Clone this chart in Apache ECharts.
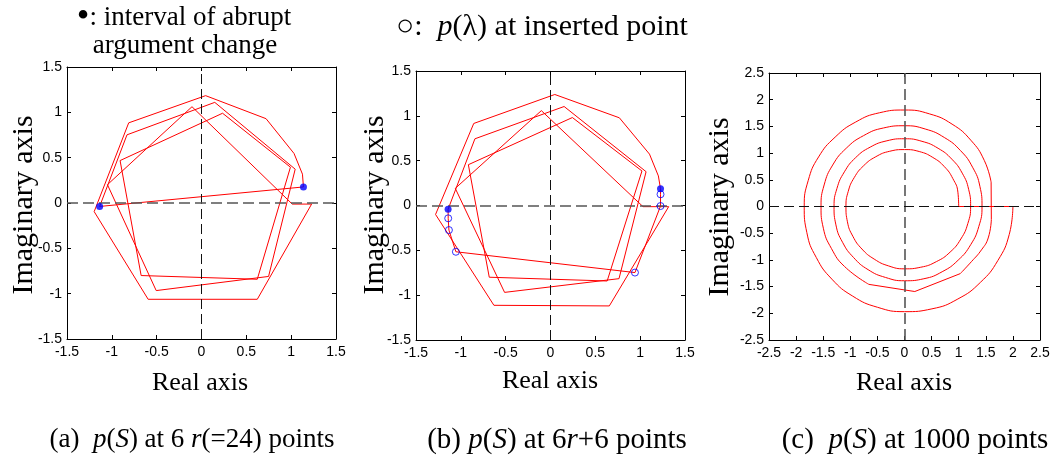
<!DOCTYPE html>
<html><head><meta charset="utf-8">
<script src="https://cdn.jsdelivr.net/npm/echarts@6/dist/echarts.min.js"></script>
<style>html,body{margin:0;padding:0;background:#fff}#c{width:1053px;height:457px}</style>
</head><body><div id="c"></div>
<script>
// ---------- data ----------
const ticksAB = [-1.5, -1, -0.5, 0, 0.5, 1, 1.5];
const ticksC = [-2.5, -2, -1.5, -1, -0.5, 0, 0.5, 1, 1.5, 2, 2.5];

// (a) p(S) at 24 points: main closed polygon and inner pentagon
const aMainPath = [
  [-1.136, -0.038], [1.137, 0.177], [1.126, 0.318], [1.032, 0.546], [0.72, 0.93],
  [0.046, 1.184], [-0.812, 0.884], [-1.197, -0.095], [-0.595, -1.062], [0.622, -1.062],
  [1.228, -0.012], [1.012, -0.012], [-0.106, 1.062], [-1.049, 0.202], [-0.505, -0.966],
  [0.748, -0.81], [1.045, 0.373], [0.148, 1.11], [-0.831, 0.752], [-1.136, -0.038]
];
const aInnerPath = [
  [0.992, 0.395], [0.235, 0.99], [-0.908, 0.468], [-0.673, -0.8], [0.622, -0.841], [0.992, 0.395]
];
const aAbruptPts = [[-1.136, -0.038], [1.137, 0.177]];

// (b) p(S) at 6r+6 points
const bMainPath = [
  [-1.142, -0.042], [-1.141, -0.143], [-1.133, -0.274], [-1.055, -0.516], [0.942, -0.748],
  [1.227, -0.006], [1.227, 0.125], [1.227, 0.186], [1.203, 0.33], [1.104, 0.573],
  [0.768, 0.978], [0.048, 1.238], [-0.856, 0.915], [-1.282, -0.1], [-0.631, -1.113],
  [0.656, -1.12], [1.318, -0.013], [1.032, -0.013], [-0.102, 1.058], [-1.062, 0.191],
  [-0.512, -0.969], [0.764, -0.816], [1.066, 0.377], [0.152, 1.104], [-0.843, 0.744],
  [-1.142, -0.042]
];
const bInnerPath = [
  [1.02, 0.385], [0.244, 0.981], [-0.916, 0.455], [-0.683, -0.8], [0.632, -0.842], [1.02, 0.385]
];
const bAbruptPts = [[-1.142, -0.042], [1.227, 0.186]];
const bInsertedPts = [[-1.141, -0.143], [-1.133, -0.274], [-1.055, -0.516], [0.942, -0.748], [1.227, -0.006], [1.227, 0.125]];

// (c) p(S) at 1000 points: spiral read as radius / angle (degrees) pairs
const cRadius = [
  1.00, 1.02, 1.03, 1.04, 1.045, 1.05, 1.05, 1.055, 1.06, 1.065, 1.07, 1.075,
  1.08, 1.09, 1.10, 1.11, 1.12, 1.135, 1.15, 1.16, 1.175, 1.19, 1.20, 1.21,
  1.22, 1.225, 1.23, 1.235, 1.24, 1.245, 1.25, 1.255, 1.265, 1.275, 1.28, 1.29,
  1.30, 1.31, 1.32, 1.33, 1.345, 1.355, 1.37, 1.38, 1.39, 1.40, 1.41, 1.42,
  1.43, 1.44, 1.45, 1.46, 1.47, 1.48, 1.49, 1.50, 1.51, 1.52, 1.53, 1.535,
  1.54, 1.55, 1.555, 1.565, 1.58, 1.58, 1.61, 1.60, 1.63, 1.65, 1.62, 1.66,
  1.70, 1.73, 1.755, 1.77, 1.78, 1.79, 1.80, 1.81, 1.83, 1.84, 1.85, 1.865,
  1.88, 1.895, 1.91, 1.925, 1.94, 1.955, 1.97, 1.98, 1.99, 2.0, 2.0, 1.0
];
const cAngle = [
  0, 15, 30, 45, 60, 75, 90, 105, 120, 135, 150, 165,
  180, 195, 210, 225, 240, 255, 270, 285, 300, 315, 330, 345,
  0, 15, 30, 45, 60, 75, 90, 105, 120, 135, 150, 165,
  180, 195, 210, 225, 240, 255, 270, 285, 300, 315, 330, 345,
  0, 15, 30, 45, 60, 75, 90, 105, 120, 135, 150, 165,
  180, 195, 210, 225, 245.4, 276.9, 309.7, 320.5, 330.6, 339.4, 351.5, 15.7,
  30, 45, 60, 75, 90, 105, 120, 135, 150, 165, 180, 195,
  210, 225, 240, 255, 270, 285, 300, 315, 330, 345, 0, 0
];
// pieces of the spiral: [first index, last index, smooth?]
const cPieces = [[0, 64, true], [64, 66, false], [66, 70, true], [70, 71, false], [71, 94, true], [94, 95, false]];

// ---------- chart ----------
const RED = '#ff0000', BLUE = '#0000ff';
const SERIF = '"Liberation Serif", "Times New Roman", serif';
const SANS = '"Liberation Sans", Arial, sans-serif';

const grids = [
  { left: 67, top: 67, width: 269, height: 272 },
  { left: 416, top: 71, width: 269, height: 269 },
  { left: 769, top: 73, width: 271, height: 267 }
];
const gridTicks = [ticksAB, ticksAB, ticksC];

const xAxes = [], yAxes = [];
gridTicks.forEach((t, i) => {
  const common = {
    type: 'value', gridIndex: i, min: t[0], max: t[t.length - 1], interval: t[1] - t[0],
    axisLine: { show: true, onZero: false, lineStyle: { color: '#000', width: 1 } },
    axisTick: { show: true, inside: true, length: 4, lineStyle: { color: '#000' } },
    splitLine: { show: false }
  };
  xAxes.push(Object.assign({}, common, { position: 'bottom',
    axisLabel: { show: true, color: '#000', fontFamily: SANS, fontSize: 14, margin: 6 } }));
  xAxes.push(Object.assign({}, common, { position: 'top', axisLabel: { show: false } }));
  yAxes.push(Object.assign({}, common, { position: 'left',
    axisLabel: { show: true, color: '#000', fontFamily: SANS, fontSize: 14, margin: 5 } }));
  yAxes.push(Object.assign({}, common, { position: 'right', axisLabel: { show: false } }));
});

const DARK = { color: '#111', type: [10, 5], width: 1 };
const GREY = { color: '#555', type: [11, 5], width: 1.6 };
function dashedAxes(vStyle, hStyle) {
  return {
    silent: true, symbol: ['none', 'none'], label: { show: false },
    emphasis: { disabled: true },
    data: [{ xAxis: 0, lineStyle: vStyle }, { yAxis: 0, lineStyle: hStyle }]
  };
}

function redLine(gi, data, mark) {
  const s = {
    type: 'line', xAxisIndex: 2 * gi, yAxisIndex: 2 * gi, data: data,
    showSymbol: false, symbol: 'none', z: 3,
    lineStyle: { color: RED, width: 1 }
  };
  if (mark) s.markLine = mark;
  return s;
}
function dots(gi, data, hollow) {
  return {
    type: 'scatter', xAxisIndex: 2 * gi, yAxisIndex: 2 * gi, data: data, z: 5,
    symbol: 'circle', symbolSize: 7,
    itemStyle: hollow ? { color: 'rgba(0,0,0,0)', borderColor: BLUE, borderWidth: 1 } : { color: BLUE }
  };
}

const spiral = cRadius.map((r, k) => [r, cAngle[k]]);

const series = [
  redLine(0, aMainPath, dashedAxes(DARK, GREY)), redLine(0, aInnerPath, null), dots(0, aAbruptPts, false),
  redLine(1, bMainPath, dashedAxes(DARK, GREY)), redLine(1, bInnerPath, null), dots(1, bInsertedPts, true), dots(1, bAbruptPts, false),
  { type: 'line', xAxisIndex: 4, yAxisIndex: 4, data: [], markLine: dashedAxes(GREY, DARK) }
];
cPieces.forEach(p => {
  series.push({
    type: 'line', coordinateSystem: 'polar', polarIndex: 0, data: spiral.slice(p[0], p[1] + 1),
    showSymbol: false, symbol: 'none', z: 3, smooth: p[2] ? 0.5 : false,
    lineStyle: { color: RED, width: 1 }
  });
});

function txt(x, y, text, size, opts) {
  opts = opts || {};
  return {
    type: 'text', x: x, y: y, rotation: opts.rot || 0, silent: true,
    style: {
      text: text, font: size + 'px ' + SERIF, fill: '#000',
      align: 'center', verticalAlign: 'middle', textAlign: 'center', textVerticalAlign: 'middle'
    }
  };
}
function rich(x, y, text, size) {
  return {
    type: 'text', x: x, y: y, silent: true,
    style: {
      text: text, fill: '#000', align: 'center', verticalAlign: 'middle', textAlign: 'center', textVerticalAlign: 'middle',
      font: size + 'px ' + SERIF,
      rich: {
        n: { fontFamily: SERIF, fontSize: size, fill: '#000' },
        i: { fontFamily: SERIF, fontSize: size, fontStyle: 'italic', fill: '#000' },
        b: { fontFamily: SERIF, fontSize: Math.round(size * 1.35), fill: '#000' }
      }
    }
  };
}

const graphics = [
  rich(184, 18, '{b|\u2022}{n|: interval of abrupt}', 27),
  txt(185, 46, 'argument change', 27),
  rich(542, 27, '{n|\u25CB:  }{i|p}{n|(\u03BB) at inserted point}', 30),
  txt(200, 383, 'Real axis', 26),
  txt(550, 381, 'Real axis', 26),
  txt(904, 383, 'Real axis', 26),
  txt(24, 205, 'Imaginary axis', 30, { rot: Math.PI / 2 }),
  txt(375, 205, 'Imaginary axis', 30, { rot: Math.PI / 2 }),
  txt(720, 207, 'Imaginary axis', 30, { rot: Math.PI / 2 }),
  rich(192, 440, '{n|(a)  }{i|p}{n|(}{i|S}{n|) at 6 }{i|r}{n|(=24) points}', 27),
  rich(557, 440, '{n|(b) }{i|p}{n|(}{i|S}{n|) at 6}{i|r}{n|+6 points}', 29),
  rich(915, 440, '{n|(c)  }{i|p}{n|(}{i|S}{n|) at 1000 points}', 29)
];

const chart = echarts.init(document.getElementById('c'), null, { renderer: 'canvas' });
chart.setOption({
  animation: false,
  backgroundColor: '#fff',
  grid: grids,
  xAxis: xAxes,
  yAxis: yAxes,
  polar: { center: [904.5, 206.5], radius: 135.5 },
  angleAxis: { type: 'value', min: 0, max: 360, startAngle: 0, clockwise: false, show: false },
  radiusAxis: { type: 'value', min: 0, max: 2.5, show: false },
  series: series,
  graphic: graphics
});
</script></body></html>
